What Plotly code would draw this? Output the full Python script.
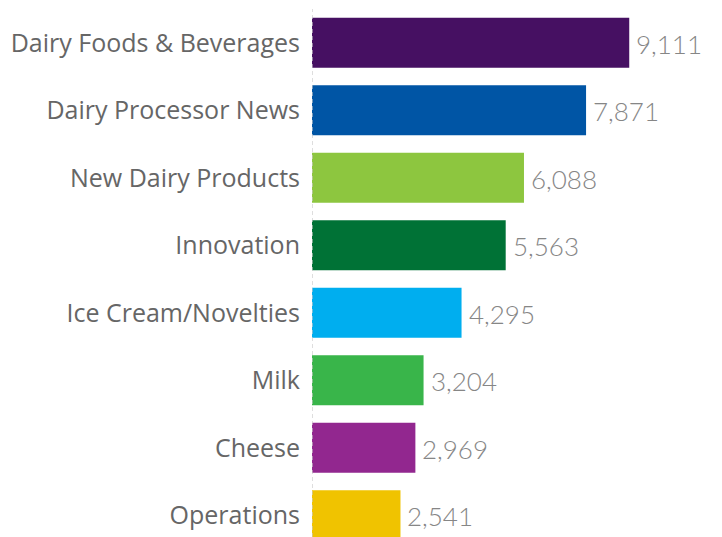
import plotly.graph_objects as go

categories = [
    "Dairy Foods & Beverages",
    "Dairy Processor News",
    "New Dairy Products",
    "Innovation",
    "Ice Cream/Novelties",
    "Milk",
    "Cheese",
    "Operations",
]
values = [9111, 7871, 6088, 5563, 4295, 3204, 2969, 2541]
colors = ["#461062", "#0055A5", "#8DC63F", "#007236", "#00AEEF", "#39B54A", "#92278F", "#F0C300"]

positions = list(range(len(categories)))

fig = go.Figure(
    go.Bar(
        x=values,
        y=positions,
        orientation="h",
        marker=dict(color=colors, line=dict(width=0)),
        width=0.74,
        hoverinfo="skip",
    )
)

for pos, val in zip(positions, values):
    fig.add_annotation(
        x=val,
        y=pos,
        text=f"{val:,}",
        showarrow=False,
        xanchor="left",
        yanchor="middle",
        xshift=5,
        yshift=-1,
        font=dict(family="Lato", size=26, color="#868686", weight=300),
    )

# dashed zero reference line
fig.add_shape(
    type="line",
    xref="x",
    yref="paper",
    x0=0,
    x1=0,
    y0=0,
    y1=1,
    line=dict(color="#c8c8c8", width=1.2, dash="4px,3px"),
)

fig.update_layout(
    width=722,
    height=537,
    margin=dict(l=312, r=0, t=9, b=0),
    paper_bgcolor="white",
    plot_bgcolor="white",
    showlegend=False,
    xaxis=dict(
        range=[0, 11775],
        showgrid=False,
        zeroline=False,
        showticklabels=False,
        showline=False,
    ),
    yaxis=dict(
        range=[7.322, -0.5],
        tickmode="array",
        tickvals=positions,
        ticktext=categories,
        showgrid=False,
        zeroline=False,
        showline=False,
        ticks="outside",
        ticklen=6,
        tickcolor="rgba(0,0,0,0)",
        tickfont=dict(family="Open Sans", size=25, color="#666666"),
    ),
)

fig.write_html("out.html")
